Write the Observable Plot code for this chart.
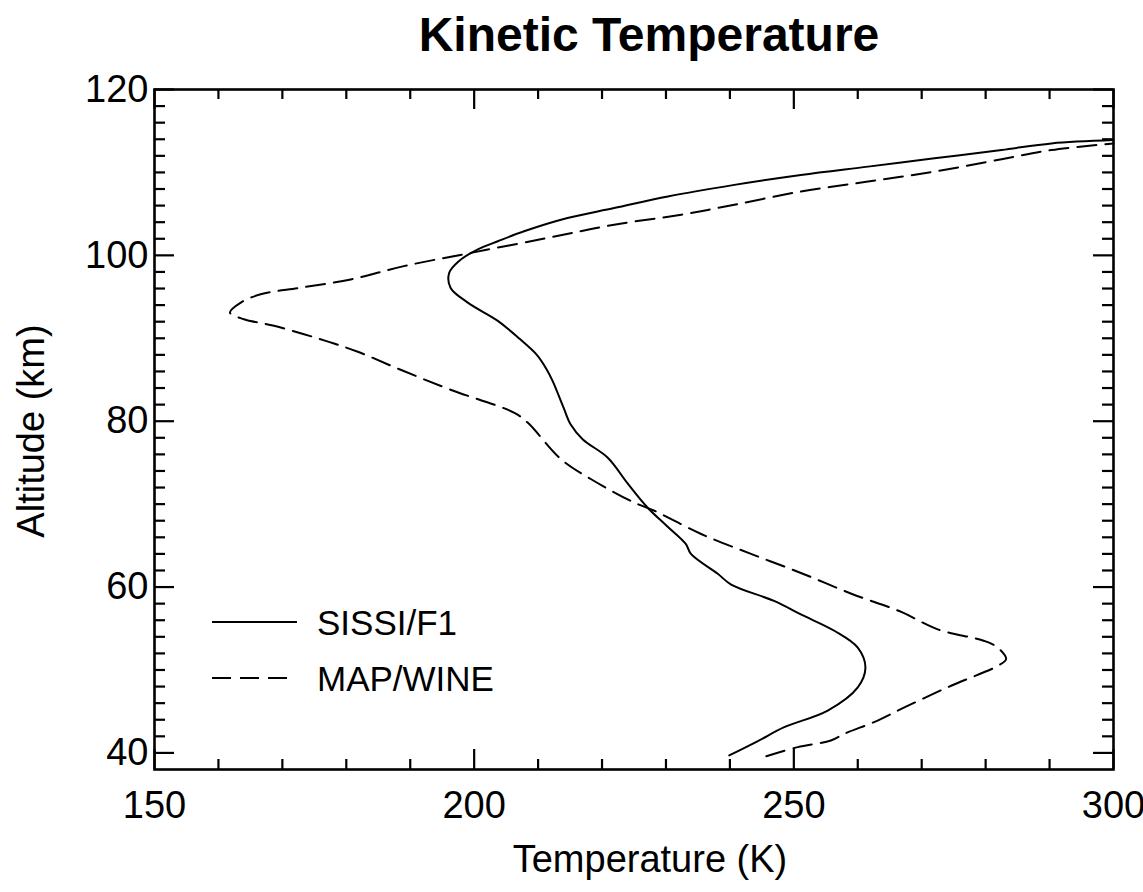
<!DOCTYPE html>
<html>
<head>
<meta charset="utf-8">
<script src="https://cdn.jsdelivr.net/npm/d3@7"></script>
<script src="https://cdn.jsdelivr.net/npm/@observablehq/plot@0.6"></script>
<style>
  html, body { margin: 0; padding: 0; background: #fff; }
  #chart { position: relative; width: 1143px; height: 892px; }
</style>
</head>
<body>
<div id="chart"></div>
<script>
// ---- Data ----
const sissiAlt  = [39.7, 41.4, 43.1, 45.1, 47.9, 50.3, 52.7, 54.7, 56.7, 58.3, 60.3, 61.6, 64.0, 65.2, 67.4, 69.6, 72.5, 75.6, 77.8, 79.6, 81.6, 84.8, 86.3, 88.0, 90.0, 92.1, 94.3, 96.1, 97.9, 99.3, 100.7, 101.7, 102.9, 104.5, 105.7, 107.1, 108.5, 109.7, 110.7, 111.7, 112.7, 113.5, 113.9];
const sissiTemp = [239.9, 244.3, 248.5, 255.3, 260.0, 261.2, 260.0, 256.4, 251.1, 247.0, 240.2, 238.1, 233.9, 233.1, 230.1, 227.1, 224.0, 220.9, 217.0, 215.1, 214.0, 212.3, 211.3, 209.8, 207.0, 203.7, 199.0, 196.3, 196.1, 197.6, 200.5, 203.7, 207.8, 214.6, 221.9, 230.3, 240.7, 251.1, 261.6, 272.0, 282.5, 290.3, 300.0];

const mapAlt  = [39.6, 40.7, 41.5, 42.3, 43.9, 45.3, 48.1, 50.5, 51.3, 52.7, 53.5, 54.9, 57.0, 59.2, 61.7, 64.0, 66.4, 69.2, 70.2, 73.0, 75.4, 79.8, 81.0, 83.8, 86.2, 88.4, 90.0, 91.5, 92.3, 93.1, 94.3, 95.3, 96.1, 97.1, 98.7, 100.3, 102.1, 103.7, 104.9, 106.1, 107.7, 108.9, 110.1, 111.6, 112.7, 113.5];
const mapTemp = [245.7, 250.6, 255.8, 257.9, 263.1, 266.8, 274.6, 281.9, 283.2, 281.9, 279.8, 272.5, 266.8, 259.0, 251.1, 243.3, 235.5, 228.2, 225.0, 218.3, 213.6, 208.4, 206.3, 196.3, 188.5, 181.7, 175.5, 168.7, 164.0, 161.8, 163.5, 166.6, 172.9, 180.7, 189.0, 199.5, 211.5, 221.9, 232.4, 240.7, 251.1, 261.6, 272.0, 282.5, 290.3, 300.0];

const seriesNames = ["SISSI/F1", "MAP/WINE"];
const xMajorTicks = [150, 200, 250, 300];
const xMinorTicks = [160, 170, 180, 190, 210, 220, 230, 240, 260, 270, 280, 290];
const yMajorTicks = [40, 60, 80, 100, 120];
const yMinorTicks = [42, 44, 46, 48, 50, 52, 54, 56, 58, 62, 64, 66, 68, 70, 72, 74, 76, 78, 82, 84, 86, 88, 90, 92, 94, 96, 98, 102, 104, 106, 108, 110, 112, 114, 116, 118];

const titleText = "Kinetic Temperature";
const xLabel = "Temperature (K)";
const yLabel = "Altitude (km)";

// ---- Tables ----
const sissi = sissiAlt.map((a, i) => ({alt: a, temp: sissiTemp[i]}));
const mapw = mapAlt.map((a, i) => ({alt: a, temp: mapTemp[i]}));

// ---- Layout ----
const W = 1143, H = 892;
const mL = 154, mR = 30, mT = 89, mB = 123;
const innerW = W - mL - mR, innerH = H - mT - mB;
const majorLen = 20, minorLenX = 10, minorLenY = 11;
const font = "'Liberation Sans', Arial, Helvetica, sans-serif";

const plot = Plot.plot({
  width: W, height: H,
  marginLeft: mL, marginRight: mR, marginTop: mT, marginBottom: mB,
  style: {fontFamily: font, fontSize: "38px", color: "#000", background: "#fff", overflow: "visible"},
  x: {domain: [150, 300], label: null},
  y: {domain: [38, 120], label: null},
  marks: [
    // inward ticks, bottom & top
    Plot.ruleX(xMajorTicks, {x: d => d, insetTop: innerH - majorLen, stroke: "#000", strokeWidth: 2.2}),
    Plot.ruleX(xMajorTicks, {x: d => d, insetBottom: innerH - majorLen, stroke: "#000", strokeWidth: 2.2}),
    Plot.ruleX(xMinorTicks, {x: d => d, insetTop: innerH - minorLenX, stroke: "#000", strokeWidth: 2.2}),
    Plot.ruleX(xMinorTicks, {x: d => d, insetBottom: innerH - minorLenX, stroke: "#000", strokeWidth: 2.2}),
    // inward ticks, left & right
    Plot.ruleY(yMajorTicks, {y: d => d, insetRight: innerW - majorLen, stroke: "#000", strokeWidth: 2.2}),
    Plot.ruleY(yMajorTicks, {y: d => d, insetLeft: innerW - majorLen, stroke: "#000", strokeWidth: 2.2}),
    Plot.ruleY(yMinorTicks, {y: d => d, insetRight: innerW - minorLenY, stroke: "#000", strokeWidth: 2.2}),
    Plot.ruleY(yMinorTicks, {y: d => d, insetLeft: innerW - minorLenY, stroke: "#000", strokeWidth: 2.2}),
    Plot.frame({stroke: "#000", strokeWidth: 2.6}),
    Plot.axisX({ticks: xMajorTicks, tickSize: 0, tickPadding: 22, label: null, fontSize: 38, fill: "#000"}),
    Plot.axisY({ticks: yMajorTicks, tickSize: 0, tickPadding: 6, label: null, fontSize: 38, fill: "#000"}),
    Plot.line(sissi, {x: "temp", y: "alt", stroke: "#000", strokeWidth: 2, curve: "catmull-rom"}),
    Plot.line(mapw, {x: "temp", y: "alt", stroke: "#000", strokeWidth: 2, strokeDasharray: "19,9", curve: "catmull-rom"})
  ]
});

document.getElementById("chart").appendChild(plot);

// ---- Title, axis labels, legend (text) ----
const svg = d3.select(plot);
svg.append("text")
  .attr("x", 649).attr("y", 51)
  .attr("text-anchor", "middle")
  .attr("font-family", font).attr("font-weight", "bold").attr("font-size", 48)
  .attr("fill", "#000")
  .text(titleText);

svg.append("text")
  .attr("x", 650).attr("y", 872)
  .attr("text-anchor", "middle")
  .attr("font-family", font).attr("font-size", 38)
  .attr("fill", "#000")
  .text(xLabel);

svg.append("text")
  .attr("transform", "translate(44,431) rotate(-90)")
  .attr("text-anchor", "middle")
  .attr("font-family", font).attr("font-size", 38)
  .attr("fill", "#000")
  .text(yLabel);

const legend = svg.append("g");
const legendRows = [
  {name: seriesNames[0], dash: null, y: 622, x2: 297},
  {name: seriesNames[1], dash: "19,9", y: 678, x2: 292}
];
legendRows.forEach(r => {
  legend.append("line")
    .attr("x1", 212).attr("x2", r.x2).attr("y1", r.y).attr("y2", r.y)
    .attr("stroke", "#000").attr("stroke-width", 2)
    .attr("stroke-dasharray", r.dash);
  legend.append("text")
    .attr("x", 317).attr("y", r.y + 13)
    .attr("text-anchor", "start")
    .attr("font-family", font).attr("font-size", 35)
    .attr("fill", "#000")
    .text(r.name);
});
</script>
</body>
</html>
